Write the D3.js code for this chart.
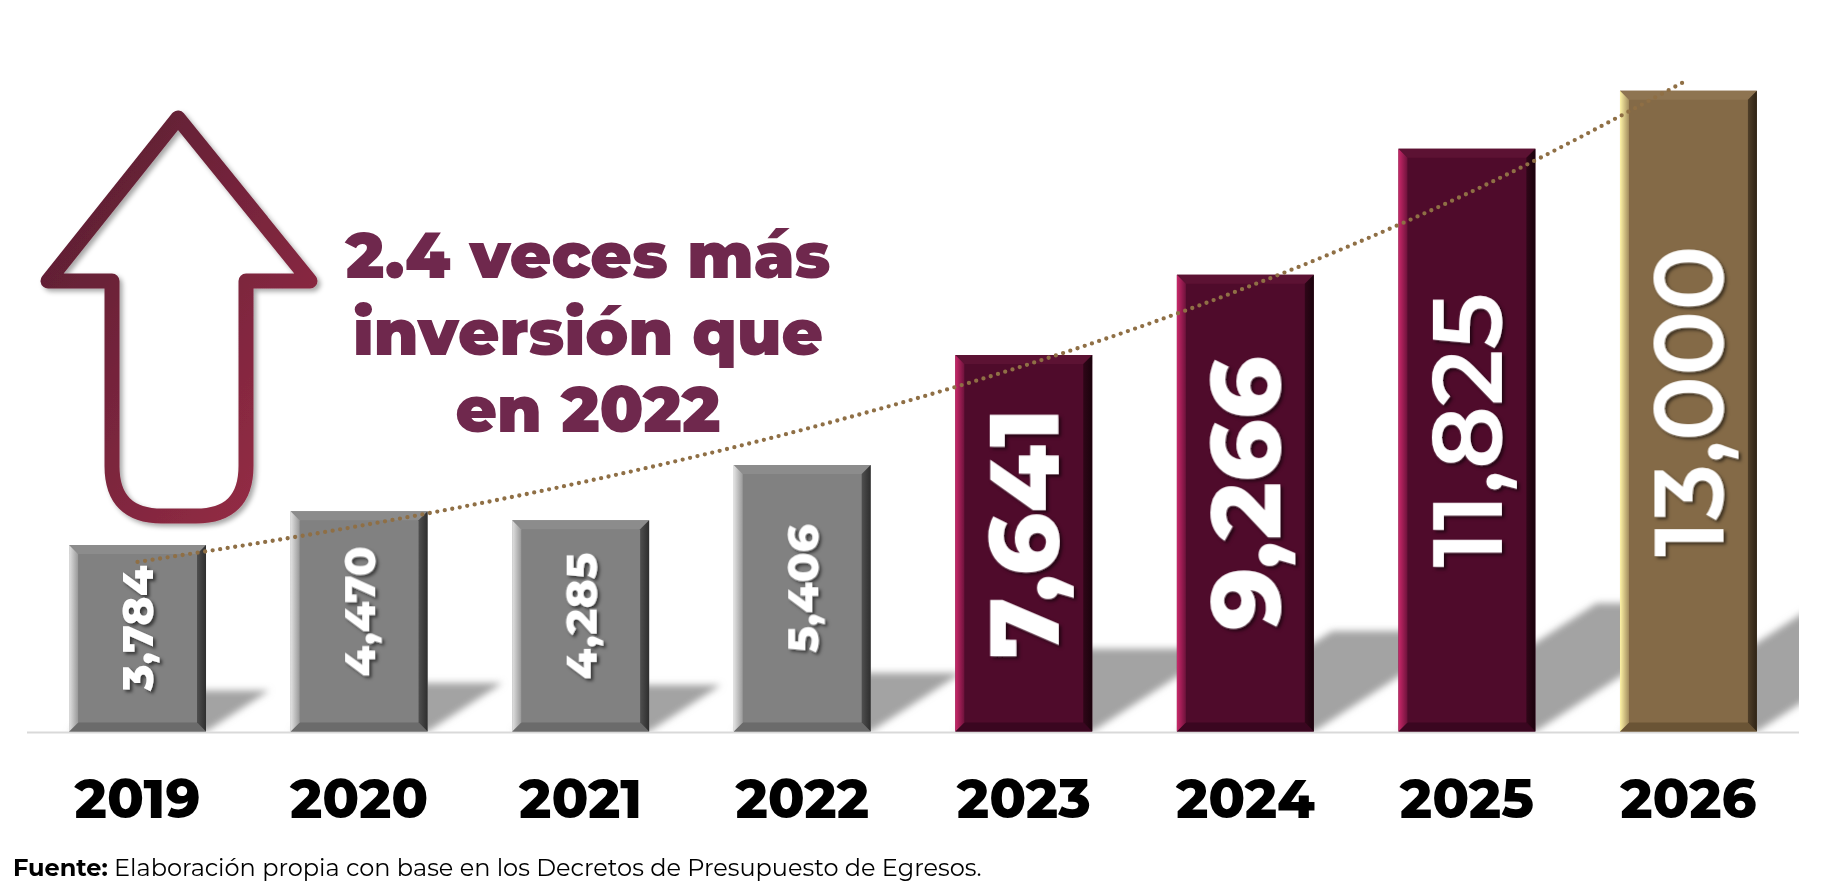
<!DOCTYPE html>
<html>
<head>
<meta charset="utf-8">
<script src="https://cdn.jsdelivr.net/npm/d3@7"></script>
<style>
  body { margin: 0; background: #fff; overflow: hidden; }
  svg { display: block; }
  text { font-family: Montserrat, Inter, "Noto Sans", sans-serif; }
</style>
</head>
<body>
<div id="root"></div>
<script>
// values
const years = ["2019", "2020", "2021", "2022", "2023", "2024", "2025", "2026"];
const amounts = [3784, 4470, 4285, 5406, 7641, 9266, 11825, 13000];
const trendValues = [3440, 4170, 5050, 6120, 7420, 9000, 10910, 13230];
const headline = ["2.4 veces más", "inversión que", "en 2022"];
const sourceLabel = "Fuente:";
const sourceText = " Elaboración propia con base en los Decretos de Presupuesto de Egresos.";

const width = 1826;
const height = 888;

const svg = d3.select("#root")
  .append("svg")
  .attr("width", width)
  .attr("height", height);

const defs = svg.append("defs");

const x = d3.scaleBand()
  .domain(years)
  .range([27, 1799])
  .paddingInner(0.382)
  .paddingOuter(0.19);

const y = d3.scaleLinear()
  .domain([0, 13000])
  .range([731.5, 90.8]);

const base = y(0);

const palettes = {
  gray:   { face: "#818181", light: "#e2e2e2", top: "#8c8c8c", bottom: "#6b6b6b", dark: "#2e2e2e" },
  maroon: { face: "#4f0b2b", light: "#c9286a", top: "#5c1233", bottom: "#3a0620", dark: "#1a020c" },
  gold:   { face: "#846a47", light: "#fff4a6", top: "#8e7451", bottom: "#6a5435", dark: "#2e2315" }
};
function paletteName(year) {
  if (+year >= 2026) return "gold";
  if (+year >= 2023) return "maroon";
  return "gray";
}

// gradients for the bevel sides
Object.entries(palettes).forEach(([name, p]) => {
  const l = defs.append("linearGradient").attr("id", "left-" + name)
    .attr("x1", 0).attr("x2", 1).attr("y1", 0).attr("y2", 0);
  l.append("stop").attr("offset", 0).attr("stop-color", p.light);
  l.append("stop").attr("offset", 1).attr("stop-color", d3.interpolateRgb(p.light, p.face)(0.75));
  const r = defs.append("linearGradient").attr("id", "right-" + name)
    .attr("x1", 0).attr("x2", 1).attr("y1", 0).attr("y2", 0);
  r.append("stop").attr("offset", 0).attr("stop-color", d3.interpolateRgb(p.face, p.dark)(0.6));
  r.append("stop").attr("offset", 1).attr("stop-color", p.dark);
});

const arrowGrad = defs.append("linearGradient").attr("id", "arrow-grad")
  .attr("x1", 0).attr("y1", 0).attr("x2", 1).attr("y2", 1);
arrowGrad.append("stop").attr("offset", 0).attr("stop-color", "#551c31");
arrowGrad.append("stop").attr("offset", 1).attr("stop-color", "#9b2d47");

const blur = defs.append("filter").attr("id", "shadow-blur")
  .attr("x", -0.2).attr("y", -0.2).attr("width", 1.4).attr("height", 1.4);
blur.append("feGaussianBlur").attr("stdDeviation", 3.5);

const dropArrow = defs.append("filter").attr("id", "arrow-shadow")
  .attr("x", -0.1).attr("y", -0.1).attr("width", 1.3).attr("height", 1.3);
dropArrow.append("feDropShadow").attr("dx", 3).attr("dy", 3).attr("stdDeviation", 2.5)
  .attr("flood-color", "#000").attr("flood-opacity", 0.35);

const dropText = defs.append("filter").attr("id", "text-shadow")
  .attr("x", -0.2).attr("y", -0.2).attr("width", 1.4).attr("height", 1.4);
dropText.append("feDropShadow").attr("dx", 2.5).attr("dy", 2.5).attr("stdDeviation", 1.6)
  .attr("flood-color", "#000").attr("flood-opacity", 0.55);

defs.append("clipPath").attr("id", "plot-clip")
  .append("rect").attr("x", 27).attr("y", 0).attr("width", 1772).attr("height", base);

const data = years.map((year, i) => ({ year, value: amounts[i], trend: trendValues[i] }));

// baseline
svg.append("line")
  .attr("x1", 27).attr("x2", 1799)
  .attr("y1", base + 1).attr("y2", base + 1)
  .attr("stroke", "#d9d9d9").attr("stroke-width", 2);

// cast shadows
svg.append("g")
  .attr("clip-path", "url(#plot-clip)")
  .selectAll("path")
  .data(data)
  .join("path")
    .attr("d", d => {
      const x0 = x(d.year), x1 = x0 + x.bandwidth();
      const h = base - y(d.value);
      const dx = 0.34 * h, dy = 0.22 * h;
      return d3.line()([[x0, base], [x1, base], [x1 + dx, base - dy], [x0 + dx, base - dy]]) + "Z";
    })
    .attr("fill", "#a3a3a3")
    .attr("filter", "url(#shadow-blur)");

// bevelled bars
const bev = 9;
const bars = svg.append("g")
  .selectAll("g")
  .data(data)
  .join("g");

function facet(d, which) {
  const x0 = x(d.year), x1 = x0 + x.bandwidth();
  const y0 = y(d.value), y1 = base;
  const b = bev;
  const pts = {
    face:   [[x0, y0], [x1, y0], [x1, y1], [x0, y1]],
    top:    [[x0, y0], [x1, y0], [x1 - b, y0 + b], [x0 + b, y0 + b]],
    bottom: [[x0, y1], [x1, y1], [x1 - b, y1 - b], [x0 + b, y1 - b]],
    left:   [[x0, y0], [x0 + b, y0 + b], [x0 + b, y1 - b], [x0, y1]],
    right:  [[x1, y0], [x1 - b, y0 + b], [x1 - b, y1 - b], [x1, y1]]
  }[which];
  return d3.line()(pts) + "Z";
}

bars.append("path").attr("d", d => facet(d, "face"))
  .attr("fill", d => palettes[paletteName(d.year)].face);
bars.append("path").attr("d", d => facet(d, "top"))
  .attr("fill", d => palettes[paletteName(d.year)].top);
bars.append("path").attr("d", d => facet(d, "bottom"))
  .attr("fill", d => palettes[paletteName(d.year)].bottom);
bars.append("path").attr("d", d => facet(d, "left"))
  .attr("fill", d => `url(#left-${paletteName(d.year)})`);
bars.append("path").attr("d", d => facet(d, "right"))
  .attr("fill", d => `url(#right-${paletteName(d.year)})`);

// dotted trend line
svg.append("path")
  .datum(data)
  .attr("d", d3.line()
    .x(d => x(d.year) + x.bandwidth() / 2)
    .y(d => y(d.trend))
    .curve(d3.curveMonotoneX))
  .attr("fill", "none")
  .attr("stroke", "#8f6f45")
  .attr("stroke-width", 4.3)
  .attr("stroke-linecap", "round")
  .attr("stroke-dasharray", "0 7.6");

// value labels, rotated
const fmt = d3.format(",");
svg.append("g")
  .attr("filter", "url(#text-shadow)")
  .selectAll("text")
  .data(data)
  .join("text")
    .attr("transform", d => {
      const cx = x(d.year) + x.bandwidth() / 2;
      const cy = (y(d.value) + base) / 2 - 10;
      return `translate(${cx},${cy}) rotate(-90)`;
    })
    .attr("dy", "0.36em")
    .attr("text-anchor", "middle")
    .attr("fill", "#fff")
    .attr("font-size", d => d.value > 7000 ? 97 : 44)
    .attr("font-weight", d => d.value > 11000 ? 600 : 800)
    .text(d => fmt(d.value));

// year labels
svg.append("g")
  .selectAll("text")
  .data(data)
  .join("text")
    .attr("x", d => x(d.year) + x.bandwidth() / 2)
    .attr("y", 818)
    .attr("text-anchor", "middle")
    .attr("font-size", 54)
    .attr("font-weight", 800)
    .attr("fill", "#000")
    .text(d => d.year);

// up arrow
svg.append("path")
  .attr("d", "M178,118 L48,281 L112,281 L112,466 Q112,516 162,516 L196,516 Q246,516 246,466 L246,281 L310,281 Z")
  .attr("fill", "none")
  .attr("stroke", "url(#arrow-grad)")
  .attr("stroke-width", 15)
  .attr("stroke-linejoin", "round")
  .attr("filter", "url(#arrow-shadow)");

// headline
const headWidths = [485, 470, 265];
svg.append("g")
  .selectAll("text")
  .data(headline)
  .join("text")
    .attr("x", 588)
    .attr("y", (d, i) => 278 + i * 77)
    .attr("text-anchor", "middle")
    .attr("font-size", 64)
    .attr("font-weight", 900)
    .attr("fill", "#6f284d")
    .attr("textLength", (d, i) => headWidths[i])
    .attr("lengthAdjust", "spacingAndGlyphs")
    .text(d => d);

// source note
const note = svg.append("text")
  .attr("x", 13)
  .attr("y", 876)
  .attr("font-size", 24)
  .attr("fill", "#000");
note.append("tspan").attr("font-weight", 700).text(sourceLabel);
note.append("tspan").attr("font-weight", 400).text(sourceText);
</script>
</body>
</html>
